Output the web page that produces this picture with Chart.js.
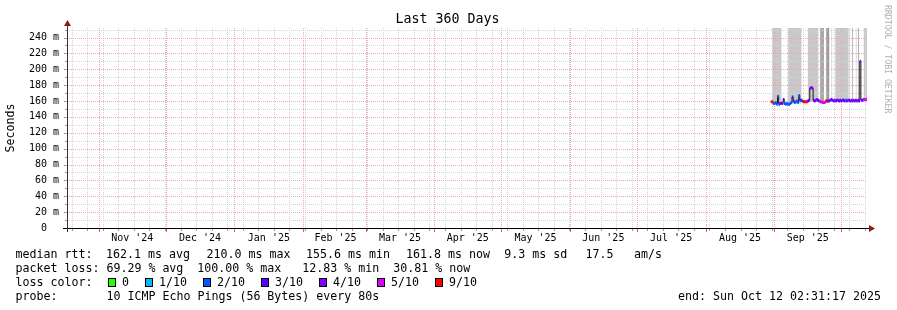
<!DOCTYPE html>
<html><head><meta charset="utf-8">
<script src="https://cdn.jsdelivr.net/npm/chart.js@4/dist/chart.umd.min.js"></script>
<style>html,body{margin:0;padding:0;background:#fff}canvas{display:block}</style>
</head><body>
<canvas id="c" width="897" height="310"></canvas>
<script>
// ---------- data ----------
const chartTitle = 'Last 360 Days';
const yAxisTitle = 'Seconds';
const watermarkText = 'RRDTOOL / TOBI OETIKER';
const xMinDay = 0, xMaxDay = 360;          // days since start of window
const yMin = 0, yMax = 252;                // milliseconds
const yMajorStep = 20, yMinorStep = 10;
const monthStartDays = [14.35, 44.35, 75.35, 106.35, 134.35, 165.35, 195.35, 226.35, 256.35, 287.35, 318.35, 348.35];
const monthLabelDays = [29.35, 59.85, 90.85, 120.85, 149.85, 180.35, 210.85, 241.35, 271.85, 302.85, 333.35];
const monthLabels = ["Nov '24", "Dec '24", "Jan '25", "Feb '25", "Mar '25", "Apr '25", "May '25", "Jun '25", "Jul '25", "Aug '25", "Sep '25"];
const firstWeekDay = 2.1, weekLength = 7;

const sampleStartDay = 317.0, sampleStepDay = 0.5;
const medianRtt = [
  159,159,157,157,158,156,166,156,157,157,
  157,162,157,156,157,156,156,157,158,165,
  160,158,159,160,158,167,161,161,160,159,
  159,159,159,160,161,176,177,176,161,160,
  161,162,161,160,159,159,158,158,158,160,
  160,160,160,161,162,161,160,161,160,161,
  161,160,161,160,161,161,160,161,160,161,
  161,160,161,160,161,160,161,160,161,160,
  210,161,161,162,162,162,162
];
const lossTenths = [
  9,9,2,2,2,2,2,2,3,4,
  3,3,2,2,2,2,2,2,2,3,
  3,2,2,2,2,2,3,2,3,9,
  9,9,9,3,3,4,4,4,3,3,
  4,4,3,3,5,5,5,5,5,9,
  9,3,4,3,4,3,4,3,4,3,
  4,3,4,3,4,3,4,2,3,4,
  3,4,3,4,3,4,3,4,3,4,
  4,4,3,5,5,5,5
];
const smokeStart = [317.3, 324.5, 333.3, 338.9, 341.6, 344.0, 345.7, 352.1, 353.3, 354.9, 356.0, 358.5, 359.2];
const smokeEnd   = [321.6, 330.6, 338.0, 340.7, 343.1, 344.4, 351.8, 352.5, 353.8, 355.3, 356.4, 359.0, 359.9];
const smokeLow   = [157,   157,   159,   159,   159,   159,   159,   159,   159,   159,   159,   159,   159];
const smokeShade = [0,     0,     0,     1,     2,     1,     0,     1,     1,     1,     1,     1,     1];

const lossLevels = [0, 1, 2, 3, 4, 5, 9];
const lossLabels = ['0', '1/10', '2/10', '3/10', '4/10', '5/10', '9/10'];
const rttStats = ['162.1 ms avg', '210.0 ms max', '155.6 ms min', '161.8 ms now', '9.3 ms sd', '17.5', 'am/s'];
const lossLine = 'packet loss: 69.29 % avg  100.00 % max   12.83 % min  30.81 % now';
const probeLabel = 'probe:';
const probeText = '10 ICMP Echo Pings (56 Bytes) every 80s';
const endText = 'end: Sun Oct 12 02:31:17 2025';

// ---------- style ----------
const MONO = '"DejaVu Sans Mono", monospace';
const lossColors = ['#26ff00', '#00b8ff', '#0059ff', '#5e00ff', '#7e00ff', '#dd00ff', '#ff0000'];
const smokeColors = ['#c8c8c8', '#a8a8a8', '#9c9c9c'];
const minorGrid = '#d4d4d4', majorGrid = '#f4a6a6', arrowColor = '#8b1a1a';
const rttX = [106, 206.4, 306, 406, 504.2, 585.4, 634];
const boxX = [108, 145, 203, 261, 319, 377, 435];

function lossColor(l) { const k = lossLevels.indexOf(l); return lossColors[k < 0 ? lossColors.length - 1 : k]; }

const medianPoints = medianRtt.map((v, i) => ({x: sampleStartDay + i * sampleStepDay, y: v}));

const datasets = [];
smokeStart.forEach((s, i) => {
  datasets.push({
    data: [{x: s, y: yMax}, {x: smokeEnd[i], y: yMax}],
    fill: {value: smokeLow[i]},
    backgroundColor: smokeColors[smokeShade[i]],
    borderColor: 'rgba(0,0,0,0)', borderWidth: 0,
    pointRadius: 0, order: 5
  });
});
const medianLineIndex = datasets.length;
datasets.push({
  data: medianPoints, borderColor: '#1a1a1a', borderWidth: 1, stepped: 'middle',
  pointRadius: 0, fill: false, order: 2
});
datasets.push({
  data: medianPoints, showLine: false, pointStyle: 'line', pointRadius: 0.75,
  pointBorderWidth: 3,
  pointBorderColor: c => lossColor(lossTenths[c.dataIndex]),
  pointBackgroundColor: c => lossColor(lossTenths[c.dataIndex]),
  order: 1
});

function hline(ctx, x1, x2, y) { ctx.beginPath(); ctx.moveTo(x1, y); ctx.lineTo(x2, y); ctx.stroke(); }
function vline(ctx, x, y1, y2) { ctx.beginPath(); ctx.moveTo(x, y1); ctx.lineTo(x, y2); ctx.stroke(); }

function drawGrid(chart) {
  const {ctx, chartArea: a, scales: {x, y}} = chart;
  ctx.save();
  ctx.lineWidth = 1;
  ctx.setLineDash([1, 1]);
  ctx.strokeStyle = minorGrid;
  for (let v = yMinorStep; v <= yMax; v += yMinorStep) {
    if (v % yMajorStep === 0) continue;
    hline(ctx, a.left, a.right, Math.round(y.getPixelForValue(v)) + 0.5);
  }
  for (let d = firstWeekDay; d < xMaxDay; d += weekLength) {
    vline(ctx, Math.round(x.getPixelForValue(d)) + 0.5, a.top, a.bottom);
  }
  ctx.strokeStyle = majorGrid;
  for (let v = yMajorStep; v <= yMax; v += yMajorStep) {
    hline(ctx, a.left, a.right, Math.round(y.getPixelForValue(v)) + 0.5);
  }
  monthStartDays.forEach(d => vline(ctx, Math.round(x.getPixelForValue(d)) + 0.5, a.top, a.bottom));
  ctx.restore();
}

const rrdPlugin = {
  id: 'rrd',
  beforeDatasetDraw(chart, args) {
    if (args.index === medianLineIndex) drawGrid(chart);
  },
  afterDatasetsDraw(chart) {
    const {ctx, chartArea: a, scales: {x, y}} = chart;
    ctx.save();
    ctx.lineWidth = 1;
    ctx.strokeStyle = '#999';
    for (let d = firstWeekDay; d < xMaxDay; d += weekLength) {
      vline(ctx, Math.round(x.getPixelForValue(d)) + 0.5, a.bottom + 1, a.bottom + 3);
    }
    for (let v = yMinorStep; v <= yMax; v += yMinorStep) {
      hline(ctx, a.left - (v % yMajorStep === 0 ? 3 : 2), a.left, Math.round(y.getPixelForValue(v)) + 0.5);
    }
    ctx.strokeStyle = '#e06060';
    monthStartDays.forEach(d => vline(ctx, Math.round(x.getPixelForValue(d)) + 0.5, a.bottom + 1, a.bottom + 4));
    ctx.strokeStyle = '#000';
    hline(ctx, a.left - 4, a.right + 2, a.bottom + 0.5);
    ctx.strokeStyle = '#333';
    vline(ctx, a.left + 0.5, a.bottom + 4, a.top - 2);
    ctx.fillStyle = arrowColor;
    ctx.beginPath();
    ctx.moveTo(a.left + 0.5 - 3.5, a.top - 2); ctx.lineTo(a.left + 0.5, a.top - 8); ctx.lineTo(a.left + 0.5 + 3.5, a.top - 2);
    ctx.closePath(); ctx.fill();
    ctx.beginPath();
    ctx.moveTo(a.right + 2, a.bottom + 0.5 - 3.5); ctx.lineTo(a.right + 8, a.bottom + 0.5); ctx.lineTo(a.right + 2, a.bottom + 0.5 + 3.5);
    ctx.closePath(); ctx.fill();
    ctx.restore();
  },
  afterDraw(chart) {
    const ctx = chart.ctx;
    ctx.save();
    ctx.fillStyle = '#000';
    ctx.textBaseline = 'alphabetic';
    ctx.font = '13.3px ' + MONO;
    ctx.textAlign = 'center';
    ctx.fillText(chartTitle, 447.5, 23);
    ctx.font = '11.63px ' + MONO;
    ctx.textAlign = 'left';
    ctx.fillText('median rtt:', 15.4, 258);
    rttStats.forEach((s, i) => ctx.fillText(s, rttX[i], 258));
    ctx.fillText(lossLine, 15.4, 272);
    ctx.fillText('loss color:', 15.4, 286);
    lossLabels.forEach((lab, i) => {
      ctx.fillStyle = lossColors[i];
      ctx.fillRect(boxX[i], 278, 8, 9);
      ctx.strokeStyle = '#000'; ctx.lineWidth = 1;
      ctx.strokeRect(boxX[i] + 0.5, 278.5, 7, 8);
      ctx.fillStyle = '#000';
      ctx.fillText(lab, boxX[i] + 14, 286);
    });
    ctx.fillText(probeLabel, 15.4, 300);
    ctx.fillText(probeText, 106.4, 300);
    ctx.textAlign = 'right';
    ctx.fillText(endText, 881, 300);
    ctx.font = '8.2px ' + MONO;
    ctx.fillStyle = '#b0b0b0';
    ctx.textAlign = 'left';
    ctx.textBaseline = 'middle';
    ctx.translate(887, 5);
    ctx.rotate(Math.PI / 2);
    ctx.fillText(watermarkText, 0, 0);
    ctx.restore();
  }
};

new Chart(document.getElementById('c'), {
  type: 'line',
  data: {datasets},
  plugins: [rrdPlugin],
  options: {
    responsive: false, animation: false, devicePixelRatio: 1,
    layout: {padding: {left: 0, right: 30, top: 28, bottom: 0}},
    plugins: {legend: {display: false}, tooltip: {enabled: false}, title: {display: false}},
    scales: {
      x: {
        type: 'linear', min: xMinDay, max: xMaxDay,
        grid: {display: false, drawTicks: false}, border: {display: false},
        afterBuildTicks: s => { s.ticks = monthLabelDays.map(v => ({value: v})); },
        afterFit: s => { s.height = 82; },
        ticks: {autoSkip: false, maxRotation: 0, minRotation: 0, padding: 4, color: '#000',
                font: {family: MONO, size: 10}, callback: (v, i) => monthLabels[i]}
      },
      y: {
        min: yMin, max: yMax,
        grid: {display: false, drawTicks: false}, border: {display: false},
        afterFit: s => { s.width = 67; },
        ticks: {stepSize: yMajorStep, includeBounds: false, padding: 8, color: '#000',
                font: {family: MONO, size: 10}, callback: v => v === 0 ? '0  ' : v + ' m'},
        title: {display: true, text: yAxisTitle, color: '#000', font: {family: MONO, size: 11.63},
                padding: {top: 4, bottom: 0}}
      }
    }
  }
});
</script>
</body></html>
